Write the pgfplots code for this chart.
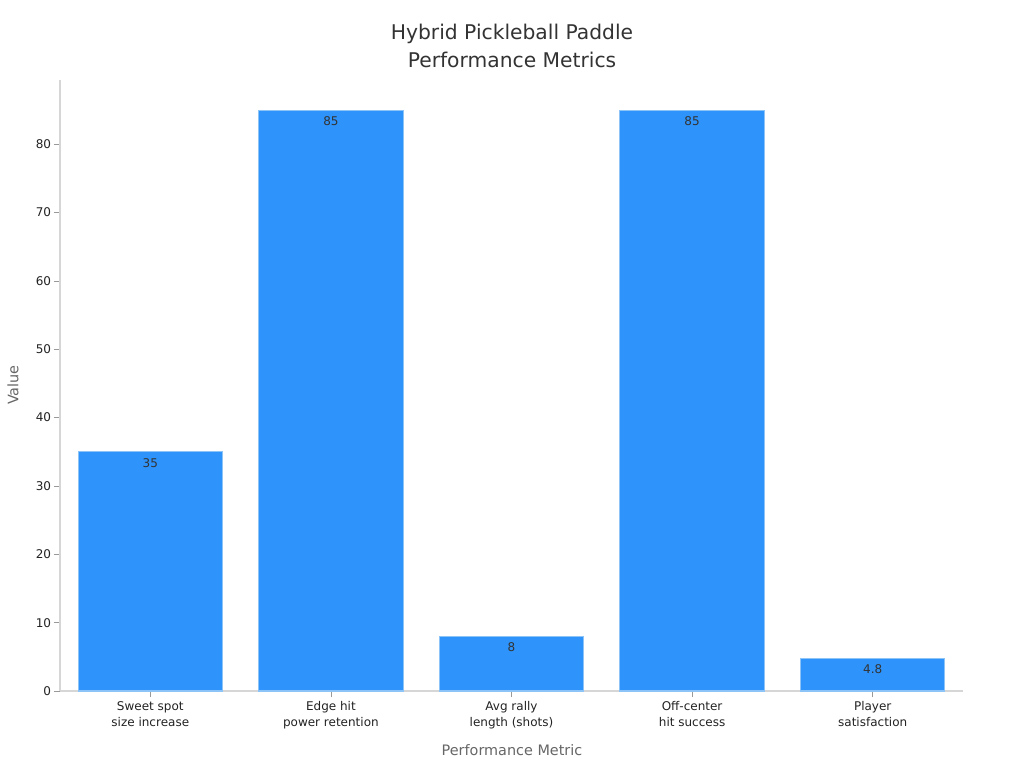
\documentclass[border=0pt]{standalone}
\usepackage{pgfplots}
\pgfplotsset{compat=1.18}
\usepackage{fontspec}
\setmainfont{DejaVu Sans}
\definecolor{barblue}{HTML}{2E93FA}
\definecolor{baredge}{HTML}{8CC4F8}
\definecolor{spine}{HTML}{D6D6D6}
\definecolor{tickm}{HTML}{999999}
\definecolor{titlec}{HTML}{333333}
\definecolor{labc}{HTML}{666666}
\definecolor{tickc}{HTML}{222222}
\begin{document}
\begin{tikzpicture}[x=0.75pt,y=0.75pt]
\useasboundingbox (0,0) rectangle (1024,768);
\begin{axis}[
  at={(45pt,57.75pt)}, anchor=south west,
  scale only axis, width=677.25pt, height=458.25pt,
  xmin=-0.5, xmax=4.5, ymin=0, ymax=89.4,
  axis lines*=left,
  axis line style={spine, line width=0.8pt},
  every tick/.style={tickm, line width=0.6pt},
  tick align=outside, major tick length=4.5pt,
  xtick={0,1,2,3,4},
  xticklabels={Sweet spot\\size increase, Edge hit\\power retention, Avg rally\\length (shots), Off-center\\hit success, Player\\satisfaction},
  ytick={0,10,20,30,40,50,60,70,80},
  /pgf/number format/assume math mode=true,
  xticklabel style={align=center, font=\fontsize{9}{12}\selectfont, text=tickc, inner sep=1pt, yshift=-2pt},
  yticklabel style={font=\fontsize{9}{11}\selectfont, text=tickc, inner sep=1pt, xshift=-1pt},
  ybar, bar width=0.8,
  nodes near coords,
  every node near coord/.append style={anchor=north, font=\fontsize{9}{11}\selectfont, text=titlec, yshift=-1pt},
  clip=false,
]
\addplot[fill=barblue, draw=baredge, line width=0.8pt] coordinates {(0,35) (1,85) (2,8) (3,85) (4,4.8)};
\end{axis}
\node[font=\fontsize{15.2}{18}\selectfont, text=titlec] at (512,734) {Hybrid Pickleball Paddle};
\node[font=\fontsize{15.2}{18}\selectfont, text=titlec] at (512,708) {Performance Metrics};
\node[font=\fontsize{10.8}{12}\selectfont, text=labc] at (512,18) {Performance Metric};
\node[font=\fontsize{10.8}{12}\selectfont, text=labc, rotate=90] at (13,383) {Value};
\end{tikzpicture}
\end{document}
